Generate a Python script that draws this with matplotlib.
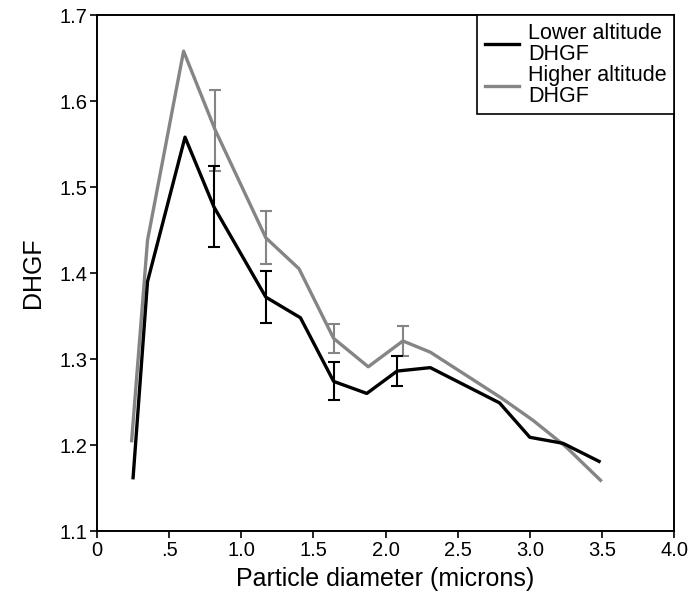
import matplotlib
matplotlib.use("Agg")
import matplotlib.pyplot as plt

plt.rcParams['font.family'] = ['Liberation Sans', 'DejaVu Sans']

# lower altitude series
low_x = [0.25, 0.35, 0.61, 0.81, 1.17, 1.41, 1.64, 1.87, 2.08, 2.31, 2.79, 3.00, 3.23, 3.48]
low_y = [1.162, 1.390, 1.558, 1.477, 1.372, 1.348, 1.274, 1.260, 1.286, 1.290, 1.249, 1.209, 1.202, 1.181]
low_err_x = [0.81, 1.17, 1.64, 2.08]
low_err_y = [1.477, 1.372, 1.274, 1.286]
low_err = [0.047, 0.030, 0.022, 0.017]

# higher altitude series
high_x = [0.24, 0.35, 0.60, 0.82, 1.17, 1.40, 1.64, 1.88, 2.12, 2.31, 2.80, 3.02, 3.25, 3.49]
high_y = [1.205, 1.438, 1.658, 1.566, 1.441, 1.405, 1.324, 1.291, 1.321, 1.308, 1.255, 1.229, 1.198, 1.159]
high_err_x = [0.82, 1.17, 1.64, 2.12]
high_err_y = [1.566, 1.441, 1.324, 1.321]
high_err = [0.047, 0.031, 0.017, 0.017]

x_ticks = [0, 0.5, 1.0, 1.5, 2.0, 2.5, 3.0, 3.5, 4.0]
x_ticklabels = ["0", ".5", "1.0", "1.5", "2.0", "2.5", "3.0", "3.5", "4.0"]
y_ticks = [1.1, 1.2, 1.3, 1.4, 1.5, 1.6, 1.7]

gray = "#858585"

fig = plt.figure(figsize=(7, 5.96), dpi=100)
ax = fig.add_axes([0.1386, 0.109, 0.963 - 0.1386, 0.9748 - 0.109])

ax.plot(low_x, low_y, color="black", lw=2.4, label="Lower altitude\nDHGF", zorder=3)
ax.plot(high_x, high_y, color=gray, lw=2.4, label="Higher altitude\nDHGF", zorder=2)
ax.errorbar(low_err_x, low_err_y, yerr=low_err, fmt="none", ecolor="black",
            elinewidth=1.5, capsize=4, capthick=1.5, zorder=3)
ax.errorbar(high_err_x, high_err_y, yerr=high_err, fmt="none", ecolor=gray,
            elinewidth=1.5, capsize=4, capthick=1.5, zorder=2)

ax.set_xlim(0, 4.0)
ax.set_ylim(1.1, 1.7)
ax.set_xticks(x_ticks)
ax.set_xticklabels(x_ticklabels)
ax.set_yticks(y_ticks)
ax.set_yticklabels(["%.1f" % v for v in y_ticks])
ax.tick_params(direction="out", length=5, width=1.2, labelsize=14.5, colors="black", pad=2)

for s in ax.spines.values():
    s.set_linewidth(1.4)

ax.set_xlabel("Particle diameter (microns)", fontsize=18, labelpad=5)
ax.set_ylabel("DHGF", fontsize=18, labelpad=10)

leg = ax.legend(loc="upper right", borderaxespad=0, fancybox=False, framealpha=1,
                edgecolor="black", fontsize=15.5, handlelength=1.6, labelspacing=0.0,
                borderpad=0.35, handletextpad=0.4)
leg.get_frame().set_linewidth(1.2)
for t in leg.get_texts():
    t.set_linespacing(1.0)

fig.savefig("out.png", dpi=100)
